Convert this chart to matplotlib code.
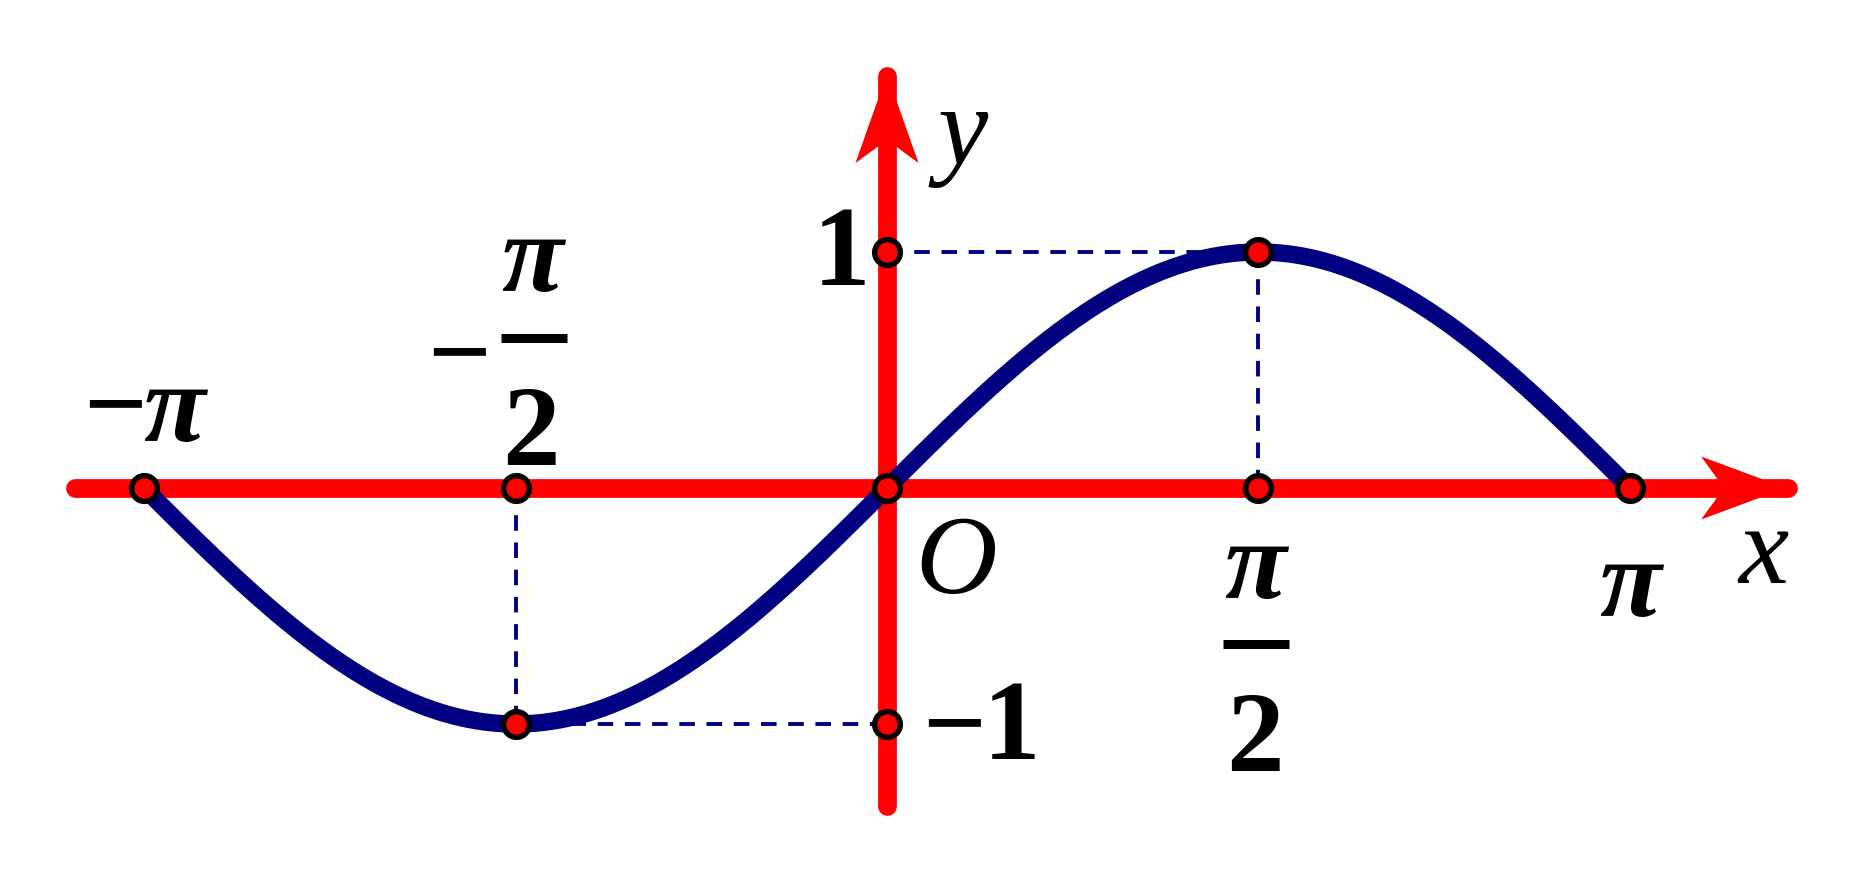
import numpy as np
import matplotlib
matplotlib.use("Agg")
import matplotlib.pyplot as plt
from matplotlib.font_manager import FontProperties
from matplotlib.textpath import TextPath
from matplotlib.transforms import IdentityTransform, ScaledTranslation
from matplotlib.lines import Line2D
from matplotlib.patches import Polygon

PI = np.pi

# ---- data -------------------------------------------------------------
# marked points on the graph of y = sin x
point_x = [-PI, -PI / 2, 0, PI / 2, PI, 0, 0, PI / 2, -PI / 2]
point_y = [0, 0, 0, 0, 0, 1, -1, 1, -1]
# curve y = sin x on [-pi, pi]
curve_x = np.linspace(-PI, PI, 600)
curve_y = np.sin(curve_x)
# dashed guide segments: (x0, x1), (y0, y1)
guide_x = [(0, PI / 2), (PI / 2, PI / 2), (-PI / 2, -PI / 2), (-PI / 2, 0)]
guide_y = [(1, 1), (1, 0), (0, -1), (-1, -1)]
# axis extents
x_axis = (-3.433, 3.81)
y_axis = (-1.347, 1.746)
# view
xlim = (-3.7505, 4.1564)
ylim = (-1.6441, 2.0678)

RED = "#FF0000"
NAVY = "#000080"
DPI = 100
K = DPI / 72.0  # points -> pixels

fig = plt.figure(figsize=(18.7, 8.76), dpi=DPI)
ax = fig.add_axes([0, 0, 1, 1])
ax.set_xlim(*xlim)
ax.set_ylim(*ylim)
ax.axis("off")

# dashed guides
for gx, gy in zip(guide_x, guide_y):
    ax.plot(gx, gy, color=NAVY, lw=2.8, dashes=(4.0, 3.0), zorder=1)

# axes lines
ax.plot(x_axis, (0, 0), color=RED, lw=13.5, solid_capstyle="round", zorder=2)
ax.plot((0, 0), y_axis, color=RED, lw=13.5, solid_capstyle="round", zorder=2)


def px_transform(anchor):
    return IdentityTransform() + ScaledTranslation(anchor[0], anchor[1], ax.transData)


# arrowheads (pixel offsets relative to axis end)
L, H, N, T = 87, 31.5, 64, -2
xa = Polygon([(T, 0), (-L, H), (-N, 0), (-L, -H)], closed=True, color=RED,
             transform=px_transform((x_axis[1], 0)), zorder=2, lw=0)
ya = Polygon([(0, -T), (H, -L), (0, -N), (-H, -L)], closed=True, color=RED,
             transform=px_transform((0, y_axis[1])), zorder=2, lw=0)
ax.add_patch(xa)
ax.add_patch(ya)

# curve
ax.plot(curve_x, curve_y, color=NAVY, lw=12.5, solid_capstyle="projecting", zorder=3)

# points
ax.plot(point_x, point_y, "o", ms=18.5, mfc=RED, mec="black", mew=3.9, zorder=5)

# ---- labels -------------------------------------------------------------
f_bold = FontProperties(family="Liberation Serif", weight="bold")
f_pi = FontProperties(family="Liberation Serif", weight="bold", style="italic")
f_ital = FontProperties(family="Liberation Serif", style="italic")


def ink(s, fp, size):
    return TextPath((0, 0), s, size=size, prop=fp).get_extents()


def size_for(s, fp, h=None, w=None):
    e = ink(s, fp, 100)
    if h is not None:
        return 100 * h / (e.height * K)
    return 100 * w / (e.width * K)


fs_digit = size_for("1", f_bold, h=76)
fs_pi = size_for("π", f_pi, h=53)
fs_ital = size_for("O", f_ital, h=76)
fs_minus = size_for("−", f_bold, w=52)


def place(s, anchor, dx, dy, fp, fs):
    e = ink(s, fp, fs)
    cy = (e.y0 + e.y1) / 2 * K
    p = fp.copy()
    p.set_size(fs)
    ax.annotate(s, xy=anchor, xycoords="data", xytext=(dx, dy - cy),
                textcoords="offset pixels", ha="center", va="baseline",
                fontproperties=p, color="black", zorder=6)


def bar(anchor, x0, x1, y):
    ax.add_line(Line2D([x0, x1], [y, y], color="black", lw=6.5,
                       solid_capstyle="butt", transform=px_transform(anchor), zorder=6))


# -pi
place("π", (-PI, 0), 30, 72.5, f_pi, fs_pi)
place("−", (-PI, 0), -29, 85, f_bold, fs_minus)
# -pi/2
place("π", (-PI / 2, 0), 17, 222, f_pi, fs_pi)
bar((-PI / 2, 0), -15, 51, 150)
place("2", (-PI / 2, 0), 15.5, 61.5, f_bold, fs_digit)
place("−", (-PI / 2, 0), -57, 137, f_bold, fs_minus)
# pi/2
place("π", (PI / 2, 0), -3, -85, f_pi, fs_pi)
bar((PI / 2, 0), -35, 31, -156)
place("2", (PI / 2, 0), -4, -244.5, f_bold, fs_digit)
# pi
place("π", (PI, 0), 0.5, -103, f_pi, fs_pi)
# 1 and -1
place("1", (0, 1), -45.5, 5, f_bold, fs_digit)
place("1", (0, -1), 124.5, 3, f_bold, fs_digit)
place("−", (0, -1), 67, 2, f_bold, fs_minus)
# O, x, y
place("O", (0, 0), 69.5, -68, f_ital, fs_ital)
place("y", (0, y_axis[1]), 76, -74, f_ital, fs_ital)
place("x", (x_axis[1], 0), -25, -69.5, f_ital, fs_ital)

fig.savefig("out.png", dpi=DPI, facecolor="white")
